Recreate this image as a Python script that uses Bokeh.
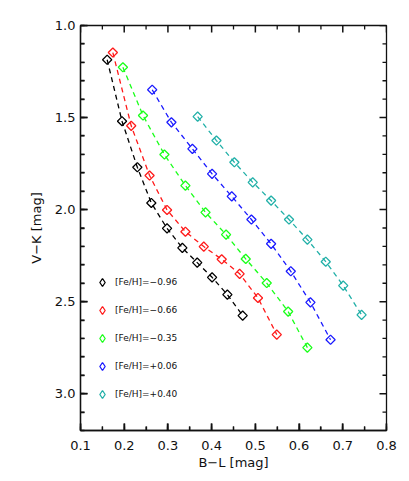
import math
from bokeh.plotting import figure
from bokeh.models import SingleIntervalTicker, PrintfTickFormatter, Range1d, Legend, LegendItem
from bokeh.embed import file_html
from bokeh.resources import INLINE

# ---- data ----
labels = ["[Fe/H]=\u22120.96", "[Fe/H]=\u22120.66", "[Fe/H]=\u22120.35",
          "[Fe/H]=+0.06", "[Fe/H]=+0.40"]
colors = ["#000000", "#ff1a1a", "#1aff1a", "#1a1aff", "#22b0a8"]

bl_m096 = [0.161, 0.195, 0.230, 0.262, 0.298, 0.333, 0.367, 0.401, 0.436, 0.471]
vk_m096 = [1.186, 1.520, 1.770, 1.964, 2.102, 2.208, 2.288, 2.368, 2.462, 2.576]

bl_m066 = [0.174, 0.216, 0.258, 0.298, 0.340, 0.382, 0.423, 0.464, 0.506, 0.549]
vk_m066 = [1.147, 1.545, 1.815, 2.002, 2.120, 2.201, 2.270, 2.349, 2.480, 2.679]

bl_m035 = [0.197, 0.243, 0.292, 0.340, 0.386, 0.433, 0.478, 0.526, 0.575, 0.619]
vk_m035 = [1.227, 1.489, 1.701, 1.870, 2.015, 2.136, 2.268, 2.399, 2.554, 2.750]

bl_p006 = [0.264, 0.308, 0.356, 0.401, 0.446, 0.491, 0.536, 0.581, 0.626, 0.672]
vk_p006 = [1.349, 1.526, 1.670, 1.806, 1.928, 2.054, 2.186, 2.335, 2.504, 2.707]

bl_p040 = [0.368, 0.411, 0.452, 0.494, 0.536, 0.577, 0.619, 0.661, 0.701, 0.743]
vk_p040 = [1.495, 1.625, 1.743, 1.852, 1.951, 2.054, 2.163, 2.283, 2.413, 2.572]

# tick values (major ones are labelled)
x_major = [0.1, 0.2, 0.3, 0.4, 0.5, 0.6, 0.7, 0.8]
x_minor = [0.15, 0.25, 0.35, 0.45, 0.55, 0.65, 0.75]
y_major = [1.0, 1.5, 2.0, 2.5, 3.0]
y_minor = [1.1, 1.2, 1.3, 1.4, 1.6, 1.7, 1.8, 1.9, 2.1, 2.2, 2.3, 2.4,
           2.6, 2.7, 2.8, 2.9, 3.1]

series_x = [bl_m096, bl_m066, bl_m035, bl_p006, bl_p040]
series_y = [vk_m096, vk_m066, vk_m035, vk_p006, vk_p040]

FONT = "DejaVu Sans"
INK = "#111111"
FRAME_W, FRAME_H = 306, 405
MAJOR_PX, MINOR_PX = 7, 4

xr = Range1d(0.1, 0.8)
yr = Range1d(3.2, 1.0)

p = figure(frame_width=FRAME_W, frame_height=FRAME_H,
           min_border_left=80, min_border_right=15,
           min_border_top=25, min_border_bottom=43,
           x_range=xr, y_range=yr,
           output_backend="svg", toolbar_location=None,
           background_fill_color="white", border_fill_color="white")
p.xgrid.visible = False
p.ygrid.visible = False
p.outline_line_color = INK
p.outline_line_width = 1.3

for ax in (p.xaxis[0], p.yaxis[0]):
    ax.axis_line_color = INK
    ax.axis_line_width = 1.3
    ax.major_tick_in = MAJOR_PX
    ax.major_tick_out = 0
    ax.minor_tick_in = MINOR_PX
    ax.minor_tick_out = 0
    ax.major_tick_line_color = INK
    ax.minor_tick_line_color = INK
    ax.major_tick_line_width = 1.5
    ax.minor_tick_line_width = 1.3
    ax.major_label_text_font = FONT
    ax.major_label_text_color = INK
    ax.major_label_text_font_size = "13px"
    ax.axis_label_text_font = FONT
    ax.axis_label_text_font_size = "13px"
    ax.axis_label_text_font_style = "normal"
    ax.axis_label_text_color = INK

p.xaxis.ticker = SingleIntervalTicker(interval=0.1, num_minor_ticks=2)
p.yaxis.ticker = SingleIntervalTicker(interval=0.5, num_minor_ticks=5)
p.yaxis.formatter = PrintfTickFormatter(format="%.1f")
p.xaxis.formatter = PrintfTickFormatter(format="%.1f")
p.xaxis.axis_label = "B\u2212L [mag]"
p.yaxis.axis_label = "V\u2212K [mag]"
p.xaxis.major_label_standoff = 10
p.xaxis.axis_label_standoff = 2
p.yaxis.major_label_standoff = 5
p.yaxis.axis_label_standoff = 8

# inward tick marks on all four sides; pixel lengths converted to data units
px_x = (xr.end - xr.start) / FRAME_W      # data units per pixel along x
px_y = (yr.end - yr.start) / FRAME_H      # (negative: y axis runs downward)
for vals, ln, lw in ((x_major, MAJOR_PX, 1.5), (x_minor, MINOR_PX, 1.3)):
    n = len(vals)
    p.segment(x0=vals, y0=[yr.start] * n, x1=vals, y1=[yr.start + ln * px_y] * n,
              line_color=INK, line_width=lw)
    p.segment(x0=vals, y0=[yr.end] * n, x1=vals, y1=[yr.end - ln * px_y] * n,
              line_color=INK, line_width=lw)
for vals, ln, lw in ((y_major, MAJOR_PX, 1.5), (y_minor, MINOR_PX, 1.3)):
    n = len(vals)
    p.segment(x0=[xr.start] * n, y0=vals, x1=[xr.start + ln * px_x] * n, y1=vals,
              line_color=INK, line_width=lw)
    p.segment(x0=[xr.end] * n, y0=vals, x1=[xr.end - ln * px_x] * n, y1=vals,
              line_color=INK, line_width=lw)

nan = float("nan")
items = []
for xs, ys, c, lab in zip(series_x, series_y, colors, labels):
    p.line(xs, ys, line_color=c, line_width=1.3, line_dash="5 4")
    p.scatter(xs, ys, marker="square", size=6.5, angle=math.pi / 4,
              fill_color=None, line_color=c, line_width=1.3)
    # legend key only (not drawn in the plot area)
    key = p.scatter([nan], [nan], marker="diamond", fill_color=None,
                    line_color=c, line_width=1.3)
    items.append(LegendItem(label=lab, renderers=[key]))

legend = Legend(items=items, location=(12, 26), spacing=8,
                glyph_width=20, glyph_height=20, label_height=20,
                label_standoff=3, padding=0, margin=0,
                border_line_color=None, background_fill_alpha=0,
                label_text_font=FONT, label_text_font_size="9px",
                label_text_color=INK)
p.add_layout(legend, "center")

open("out.html", "w").write(file_html(p, INLINE))
